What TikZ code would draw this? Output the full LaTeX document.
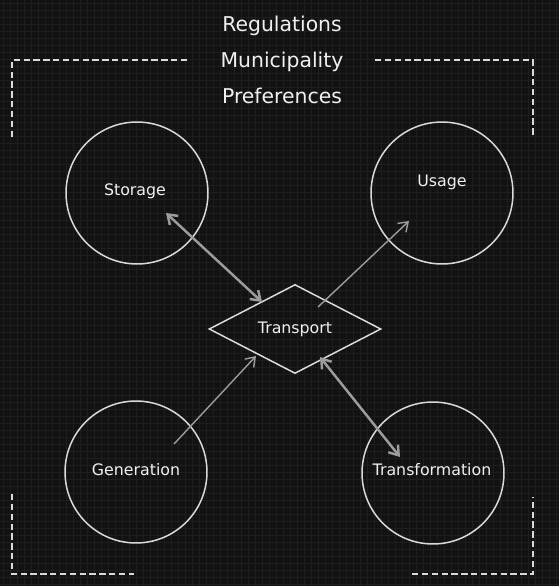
\documentclass[tikz,border=0pt]{standalone}
\usepackage{fontspec}
\setmainfont{DejaVu Sans}
\usetikzlibrary{calc,arrows.meta,shapes.geometric}

\definecolor{board}{HTML}{121212}
\definecolor{gridgray}{HTML}{1E1E1E}
\definecolor{chalk}{HTML}{DADADA}
\definecolor{inkwhite}{HTML}{F0F0F0}
\definecolor{linkgray}{HTML}{9C9C9C}

\tikzset{
	ring/.style={draw=chalk, line width=0.85pt, circle, minimum size=2.84cm, inner sep=0pt},
	lbl/.style={text=inkwhite, font=\fontsize{9}{11}\selectfont},
	bracket/.style={draw=chalk, line width=1.1pt, dash pattern=on 3.6pt off 2pt},
	flow/.style={draw=linkgray, line width=0.8pt, -{Straight Barb[length=5pt,width=7pt]}},
	swap/.style={draw=linkgray, line width=1.4pt, {Straight Barb[length=5pt,width=7pt]}-{Straight Barb[length=5pt,width=7pt]}}
}

\begin{document}
\begin{tikzpicture}[x=0.02cm, y=-0.02cm]
		%%%%% START %%%%%
		
		\fill[board] (0, 0) rectangle (559, 586);
		\useasboundingbox (0, 0) rectangle (559, 586);
		\foreach \g in {3, 10, ..., 559} {
			\draw[gridgray, line width=0.35pt] (\g, 0) -- (\g, 586);
		}
		\foreach \g in {3, 10, ..., 586} {
			\draw[gridgray, line width=0.35pt] (0, \g) -- (559, \g);
		}
		
		\node[text=inkwhite, align=center, font=\fontsize{11.6}{20.6}\selectfont] (context) at (282, 60) {Regulations\\Municipality\\Preferences};
		
		\draw[bracket] (12, 137) -- (12, 60) -- (188, 60);
		\draw[bracket] (375, 60) -- (533, 60) -- (533, 138);
		\draw[bracket] (12, 494) -- (12, 574) -- (134, 574);
		\draw[bracket] (412, 574) -- (533, 574) -- (533, 497);
		
		\node[ring] (storage) at (137, 193) {};
		\node[ring] (usage) at (442, 193) {};
		\node[ring] (generation) at (136, 472) {};
		\node[ring] (transformation) at (433, 473) {};
		\node[lbl] (storage-lbl) at (135, 191) {Storage};
		\node[lbl] (usage-lbl) at (442, 182) {Usage};
		\node[lbl] (generation-lbl) at (136, 470) {Generation};
		\node[lbl] (transformation-lbl) at (432, 470) {Transformation};
		
		\node[diamond, draw=chalk, line width=0.85pt, minimum width=3.44cm, minimum height=1.78cm, inner sep=0pt, lbl] (transport) at (295, 329) {Transport};
		
		\draw[swap] ($(storage)+(29, 20)$) -- ($(transport)+(-33, -27)$);
		\draw[flow] ($(transport)+(23, -22)$) -- ($(usage)+(-33, 28)$);
		\draw[flow] ($(generation)+(38, -28)$) -- ($(transport)+(-39, 27)$);
		\draw[swap] ($(transport)+(25, 28)$) -- ($(transformation)+(-33, -16)$);
		
		%%%%% END %%%%%
\end{tikzpicture}
\end{document}
